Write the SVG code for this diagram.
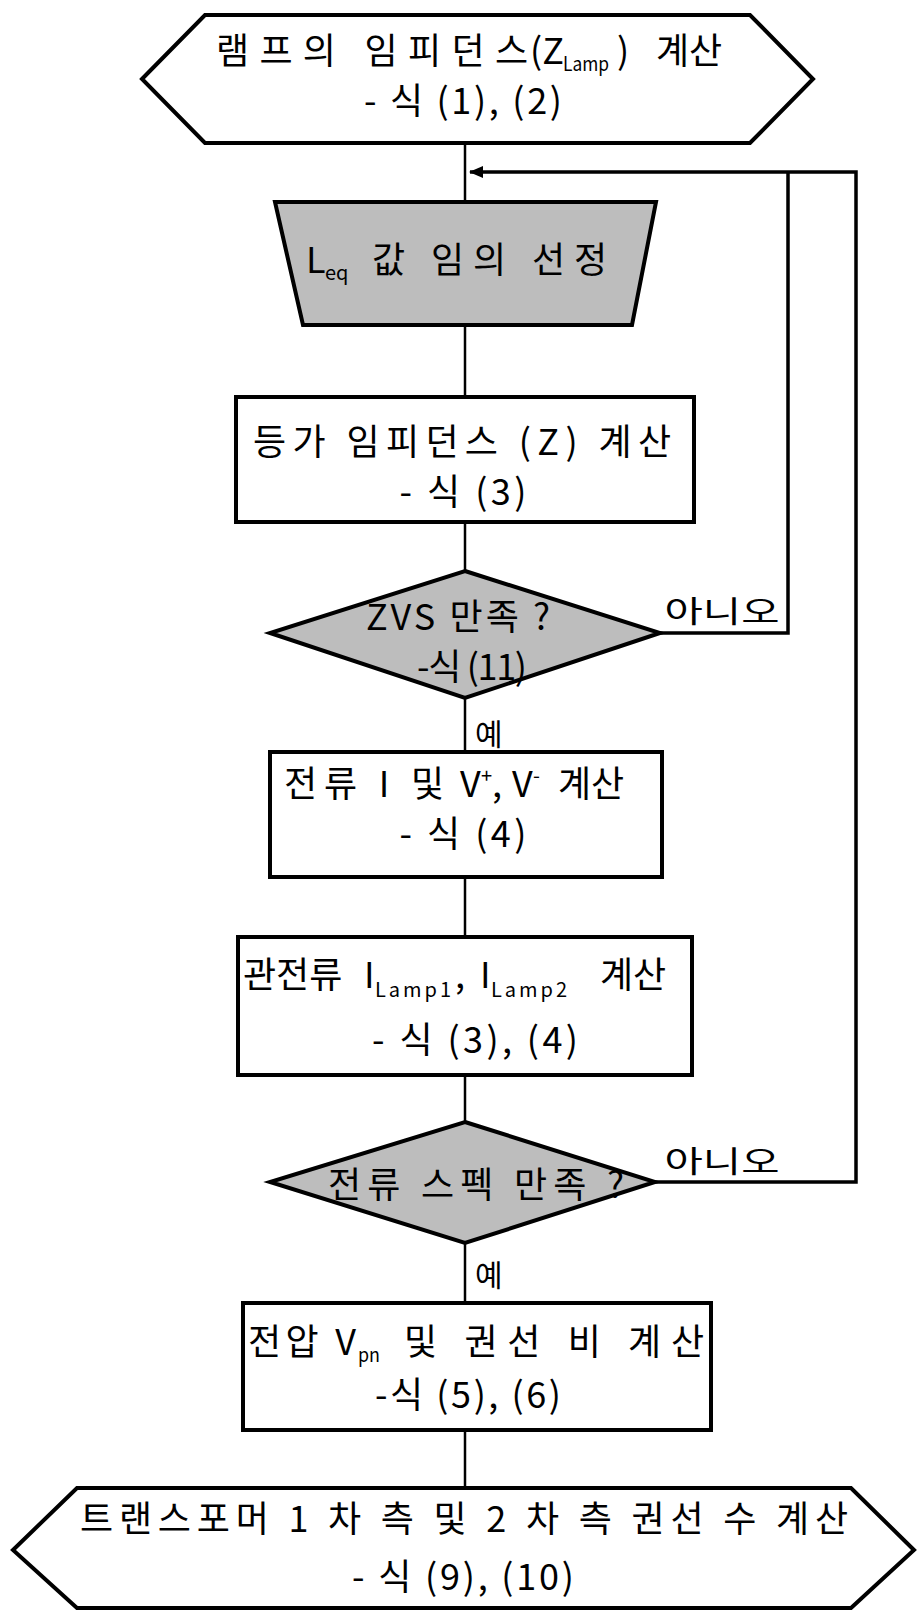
<svg xmlns="http://www.w3.org/2000/svg" width="919" height="1611" viewBox="0 0 919 1611">
<style>
.node{stroke:#000;stroke-width:4;fill:#fff;stroke-linejoin:miter}
.shade{fill:#bdbdbd}
.t{font-family:"Noto Sans CJK KR","Noto Sans",sans-serif;font-size:36px;fill:#000}
.c{text-anchor:middle}
.lbl{font-family:"Noto Sans CJK KR","Noto Sans",sans-serif;font-size:30px;fill:#000}
.sub{font-family:"Noto Sans CJK KR","Noto Sans",sans-serif;font-size:20px;fill:#000}
.conn{stroke:#000;stroke-width:2.5;fill:none}
.fb{stroke:#000;stroke-width:3.5;fill:none}
</style>
<defs>
<marker id="arr" markerWidth="14" markerHeight="12" refX="13" refY="6" orient="auto" markerUnits="userSpaceOnUse">
<path d="M0,0 L14,6 L0,12 z" fill="#000"/>
</marker>
</defs>
<g id="connectors">
<path class="conn" d="M465,143 V202"/>
<path class="conn" d="M465,325 V397"/>
<path class="conn" d="M465,522 V571"/>
<path class="conn" d="M465,698 V752"/>
<path class="conn" d="M465,877 V937"/>
<path class="conn" d="M465,1075 V1122"/>
<path class="conn" d="M465,1243 V1303"/>
<path class="conn" d="M465,1430 V1488"/>
<path class="fb" d="M660,633 H788 V172"/>
<path class="fb" d="M655,1182 H856 V172 H470" marker-end="url(#arr)"/>
<text class="lbl c" x="722" y="622" font-size="32" textLength="115" lengthAdjust="spacingAndGlyphs">아니오</text>
<text class="lbl" x="475" y="745">예</text>
<text class="lbl c" x="722" y="1172" font-size="32" textLength="115" lengthAdjust="spacingAndGlyphs">아니오</text>
<text class="lbl" x="475" y="1286">예</text>
</g>
<g id="n1">
<polygon class="node" points="142,79 205,15 750,15 813,79 750,143 205,143"/>
<text class="t" x="216" y="64" textLength="312" lengthAdjust="spacing">램프의 임피던스</text>
<text class="t" x="530" y="64">(Z</text>
<text class="sub" x="563" y="71" textLength="46" lengthAdjust="spacingAndGlyphs">Lamp</text>
<text class="t" x="617" y="64">)</text>
<text class="t" x="656" y="64">계산</text>
<text class="t c" x="463" y="114" textLength="198" lengthAdjust="spacing">- 식 (1), (2)</text>
</g>
<g id="n2">
<polygon class="node shade" points="275,202 656,202 632,325 303,325"/>
<text class="t" x="306" y="273">L</text>
<text class="sub" x="325" y="280">eq</text>
<text class="t" x="372" y="273" textLength="235" lengthAdjust="spacing">값 임의 선정</text>
</g>
<g id="n3">
<rect class="node" x="236" y="397" width="458" height="125"/>
<text class="t c" x="462" y="455" textLength="418" lengthAdjust="spacing">등가 임피던스 (Z) 계산</text>
<text class="t c" x="463" y="505" textLength="127" lengthAdjust="spacing">- 식 (3)</text>
</g>
<g id="n4">
<polygon class="node shade" points="465,571 660,633 465,698 270,633"/>
<text class="t c" x="458" y="630" textLength="184" lengthAdjust="spacing">ZVS 만족 ?</text>
<text class="t c" x="472" y="680" font-size="30" textLength="110" lengthAdjust="spacing">-식 (11)</text>
</g>
<g id="n5">
<rect class="node" x="270" y="752" width="392" height="125"/>
<text class="t" x="284" y="797" textLength="160" lengthAdjust="spacing">전류 I 및</text>
<text class="t" x="460" y="797">V</text>
<text class="sub" x="481" y="783">+</text>
<text class="t" x="492" y="797">,</text>
<text class="t" x="512" y="797">V</text>
<text class="sub" x="533" y="783">-</text>
<text class="t" x="558" y="797">계산</text>
<text class="t c" x="463" y="847" textLength="127" lengthAdjust="spacing">- 식 (4)</text>
</g>
<g id="n6">
<rect class="node" x="238" y="937" width="454" height="138"/>
<text class="t" x="243" y="988">관전류</text>
<text class="t" x="364" y="988">I</text>
<text class="sub" x="375" y="997" font-size="24" textLength="76" lengthAdjust="spacing">Lamp1</text>
<text class="t" x="455" y="988">,</text>
<text class="t" x="480" y="988">I</text>
<text class="sub" x="491" y="997" font-size="24" textLength="76" lengthAdjust="spacing">Lamp2</text>
<text class="t" x="600" y="988">계산</text>
<text class="t c" x="475" y="1053" textLength="206" lengthAdjust="spacing">- 식 (3), (4)</text>
</g>
<g id="n7">
<polygon class="node shade" points="465,1122 655,1182 465,1243 270,1182"/>
<text class="t c" x="476" y="1198" textLength="296" lengthAdjust="spacing">전류 스펙 만족 ?</text>
</g>
<g id="n8">
<rect class="node" x="243" y="1303" width="468" height="127"/>
<text class="t" x="248" y="1355" textLength="108" lengthAdjust="spacing">전압 V</text>
<text class="sub" x="358" y="1362" textLength="22" lengthAdjust="spacingAndGlyphs">pn</text>
<text class="t" x="404" y="1355" textLength="300" lengthAdjust="spacing">및 권선 비 계산</text>
<text class="t c" x="468" y="1408" textLength="186" lengthAdjust="spacing">-식 (5), (6)</text>
</g>
<g id="n9">
<polygon class="node" points="13,1550 77,1488 851,1488 914,1550 851,1608 77,1608"/>
<text class="t c" x="464" y="1532" textLength="768" lengthAdjust="spacing">트랜스포머 1 차 측 및 2 차 측 권선 수 계산</text>
<text class="t c" x="463" y="1590" textLength="222" lengthAdjust="spacing">- 식 (9), (10)</text>
</g>
</svg>
